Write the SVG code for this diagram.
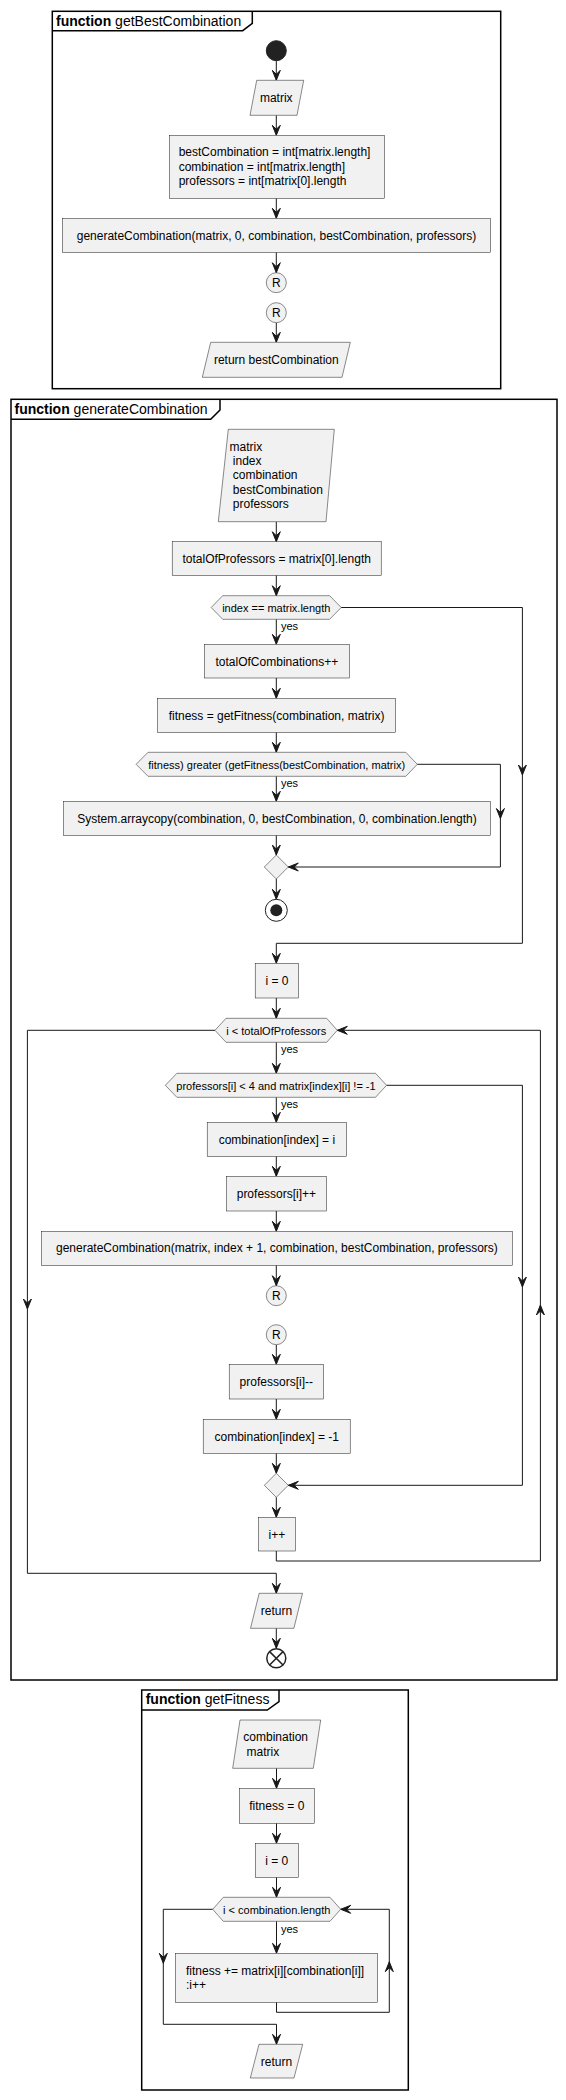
<svg xmlns="http://www.w3.org/2000/svg" xmlns:xlink="http://www.w3.org/1999/xlink" width="566" height="2100" viewBox="0 0 566 2100">
<style>
text{font-family:"Liberation Sans",Arial,sans-serif;fill:#000}
.t{font-size:12px}
.c{text-anchor:middle}
.s{font-size:11px}
.ttl{font-size:14px}
.b{font-weight:bold}
.n{fill:#F1F1F1;stroke:#181818;stroke-width:0.5}
.fr{fill:none;stroke:#000;stroke-width:1.5}
.ln{fill:none;stroke:#181818;stroke-width:1}
.ah{fill:#181818;stroke:#181818;stroke-width:1}
</style>
<defs>
<path id="ad" d="M-4,-10 L0,0 L4,-10 L0,-6 Z"/>
<path id="au" d="M-4,10 L0,0 L4,10 L0,6 Z"/>
<path id="al" d="M10,-4 L0,0 L10,4 L6,0 Z"/>
</defs>
<rect width="566" height="2100" fill="#fff"/>

<g id="frame-getBestCombination">
<rect class="fr" x="52.3" y="11.3" width="448.4" height="377.4"/>
<polyline class="fr" points="52.3,30.7 242.7,30.7 252.3,23.3 252.3,11.3"/>
<text class="ttl" x="56" y="25.5"><tspan class="b">function</tspan> getBestCombination</text>
</g>
<g id="frame-generateCombination">
<rect class="fr" x="11" y="399.3" width="546" height="1280.7"/>
<polyline class="fr" points="11,419.3 210.7,419.3 220,410 220,399.3"/>
<text class="ttl" x="14.5" y="413.5"><tspan class="b">function</tspan> generateCombination</text>
</g>
<g id="frame-getFitness">
<rect class="fr" x="141.7" y="1690" width="266.6" height="400"/>
<polyline class="fr" points="141.7,1710 267.3,1710 279,1701.7 279,1690"/>
<text class="ttl" x="145.7" y="1704"><tspan class="b">function</tspan> getFitness</text>
</g>

<g id="connectors">
<g class="ln">
<line x1="276.3" y1="60.7" x2="276.3" y2="80"/>
<line x1="276.3" y1="115.3" x2="276.3" y2="135"/>
<line x1="276.3" y1="198.3" x2="276.3" y2="218"/>
<line x1="276.3" y1="252.3" x2="276.3" y2="272.5"/>
<line x1="276.3" y1="322.7" x2="276.3" y2="342"/>

<line x1="276.3" y1="521.7" x2="276.3" y2="541.5"/>
<line x1="276.3" y1="575.3" x2="276.3" y2="595.5"/>
<line x1="276.3" y1="619.3" x2="276.3" y2="644"/>
<line x1="276.3" y1="678" x2="276.3" y2="698"/>
<line x1="276.3" y1="732.3" x2="276.3" y2="752"/>
<line x1="276.3" y1="776.3" x2="276.3" y2="801"/>
<line x1="276.3" y1="835.3" x2="276.3" y2="855"/>
<line x1="276.3" y1="879" x2="276.3" y2="899"/>
<polyline points="417.3,764.3 500.4,764.3 500.4,867 288.3,867"/>
<polyline points="341.2,607.5 522.4,607.5 522.4,943.3 276.3,943.3 276.3,963"/>
<line x1="276.3" y1="998" x2="276.3" y2="1018"/>
<line x1="276.3" y1="1042.3" x2="276.3" y2="1073"/>
<line x1="276.3" y1="1097.3" x2="276.3" y2="1122"/>
<line x1="276.3" y1="1156.3" x2="276.3" y2="1176"/>
<line x1="276.3" y1="1211" x2="276.3" y2="1231"/>
<line x1="276.3" y1="1265.3" x2="276.3" y2="1285.5"/>
<line x1="276.3" y1="1344.7" x2="276.3" y2="1364"/>
<line x1="276.3" y1="1399" x2="276.3" y2="1419"/>
<line x1="276.3" y1="1453.3" x2="276.3" y2="1473"/>
<polyline points="386.6,1085.3 522.4,1085.3 522.4,1485.3 288.3,1485.3"/>
<line x1="276.3" y1="1497.3" x2="276.3" y2="1517"/>
<polyline points="276.3,1551 276.3,1561 540.4,1561 540.4,1030.3 337.3,1030.3"/>
<polyline points="215,1030.3 27.4,1030.3 27.4,1573.3 276.3,1573.3 276.3,1593"/>
<line x1="276.3" y1="1628.3" x2="276.3" y2="1648"/>

<line x1="276.5" y1="1768.3" x2="276.5" y2="1788"/>
<line x1="276.5" y1="1823.3" x2="276.5" y2="1843"/>
<line x1="276.5" y1="1877.3" x2="276.5" y2="1897"/>
<line x1="276.5" y1="1921.3" x2="276.5" y2="1953"/>
<polyline points="276.5,2002.3 276.5,2012.3 389.3,2012.3 389.3,1909.3 340.7,1909.3"/>
<polyline points="212.7,1909.3 163.3,1909.3 163.3,2024.3 276.5,2024.3 276.5,2044"/>
</g>
<g class="ah">
<use xlink:href="#ad" x="276.3" y="80.3"/>
<use xlink:href="#ad" x="276.3" y="135.3"/>
<use xlink:href="#ad" x="276.3" y="218.3"/>
<use xlink:href="#ad" x="276.3" y="272.7"/>
<use xlink:href="#ad" x="276.3" y="342.3"/>

<use xlink:href="#ad" x="276.3" y="541.7"/>
<use xlink:href="#ad" x="276.3" y="595.7"/>
<use xlink:href="#ad" x="276.3" y="644.3"/>
<use xlink:href="#ad" x="276.3" y="698.3"/>
<use xlink:href="#ad" x="276.3" y="752.3"/>
<use xlink:href="#ad" x="276.3" y="801.3"/>
<use xlink:href="#ad" x="276.3" y="855"/>
<use xlink:href="#ad" x="276.3" y="899.3"/>
<use xlink:href="#ad" x="500.4" y="818.5"/>
<use xlink:href="#al" x="288.3" y="867"/>
<use xlink:href="#ad" x="522.4" y="775"/>
<use xlink:href="#ad" x="276.3" y="963.3"/>
<use xlink:href="#ad" x="276.3" y="1018.3"/>
<use xlink:href="#ad" x="276.3" y="1073.3"/>
<use xlink:href="#ad" x="276.3" y="1122.3"/>
<use xlink:href="#ad" x="276.3" y="1176.3"/>
<use xlink:href="#ad" x="276.3" y="1231.3"/>
<use xlink:href="#ad" x="276.3" y="1285.7"/>
<use xlink:href="#ad" x="276.3" y="1364.3"/>
<use xlink:href="#ad" x="276.3" y="1419.3"/>
<use xlink:href="#ad" x="276.3" y="1473.3"/>
<use xlink:href="#ad" x="522.4" y="1287"/>
<use xlink:href="#al" x="288.3" y="1485.3"/>
<use xlink:href="#ad" x="276.3" y="1517.3"/>
<use xlink:href="#au" x="540.4" y="1305"/>
<use xlink:href="#al" x="337.3" y="1030.3"/>
<use xlink:href="#ad" x="27.4" y="1309"/>
<use xlink:href="#ad" x="276.3" y="1593.3"/>
<use xlink:href="#ad" x="276.3" y="1648.3"/>

<use xlink:href="#ad" x="276.5" y="1788.3"/>
<use xlink:href="#ad" x="276.5" y="1843.3"/>
<use xlink:href="#ad" x="276.5" y="1897.3"/>
<use xlink:href="#ad" x="276.5" y="1953.3"/>
<use xlink:href="#au" x="389.3" y="1961.7"/>
<use xlink:href="#al" x="340.7" y="1909.3"/>
<use xlink:href="#ad" x="163.3" y="1963.3"/>
<use xlink:href="#ad" x="276.5" y="2044.3"/>
</g>
<g class="s">
<text x="281" y="630">yes</text>
<text x="281" y="787">yes</text>
<text x="281" y="1052.5">yes</text>
<text x="281" y="1108">yes</text>
<text x="281" y="1932.5">yes</text>
</g>
</g>

<!-- getBestCombination nodes -->
<g id="start1"><circle cx="276.3" cy="50.7" r="10" fill="#222222" stroke="#222222"/></g>
<g id="in1"><polygon class="n" points="256.7,80.3 303.7,80.3 297,115.3 250,115.3"/><text class="t c" x="276.3" y="102">matrix</text></g>
<g id="init1"><rect class="n" x="169.3" y="135.3" width="215" height="63"/>
<text class="t" x="178.7" y="156">bestCombination = int[matrix.length]</text>
<text class="t" x="178.7" y="170.5">combination = int[matrix.length]</text>
<text class="t" x="178.7" y="185">professors = int[matrix[0].length</text></g>
<g id="call1"><rect class="n" x="62.3" y="218.3" width="428.4" height="34"/><text class="t c" x="276.5" y="240">generateCombination(matrix, 0, combination, bestCombination, professors)</text></g>
<g id="r1"><circle class="n" cx="276.3" cy="282.7" r="10"/><text class="t c" x="276.3" y="287">R</text></g>
<g id="r2"><circle class="n" cx="276.3" cy="312.7" r="10"/><text class="t c" x="276.3" y="317">R</text></g>
<g id="ret1"><polygon class="n" points="210.7,342.3 350.3,342.3 342,377.3 202.3,377.3"/><text class="t c" x="276.3" y="364">return bestCombination</text></g>

<!-- generateCombination nodes -->
<g id="in2"><polygon class="n" points="228.3,429.3 334.3,429.3 326,521.7 218.3,521.7"/>
<text class="t" x="229.5" y="450.5">matrix</text>
<text class="t" x="232.8" y="465">index</text>
<text class="t" x="232.8" y="479.3">combination</text>
<text class="t" x="232.8" y="493.7">bestCombination</text>
<text class="t" x="232.8" y="508">professors</text></g>
<g id="tot"><rect class="n" x="172.2" y="541.7" width="209" height="33.6"/><text class="t c" x="276.7" y="562.5">totalOfProfessors = matrix[0].length</text></g>
<g id="ifA"><polygon class="n" points="211.2,607.5 222.7,595.7 329.6,595.7 341.2,607.5 329.6,619.3 222.7,619.3"/><text class="s c" x="276.3" y="611.5">index == matrix.length</text></g>
<g id="inc"><rect class="n" x="204.3" y="644.3" width="145.2" height="33.7"/><text class="t c" x="276.9" y="665.5">totalOfCombinations++</text></g>
<g id="fit"><rect class="n" x="157.4" y="698.3" width="238.3" height="34"/><text class="t c" x="276.5" y="720">fitness = getFitness(combination, matrix)</text></g>
<g id="ifB"><polygon class="n" points="136.1,764.3 148,752.3 405.8,752.3 417.3,764.3 405.8,776.3 148,776.3"/><text class="s c" x="276.7" y="768.5">fitness) greater (getFitness(bestCombination, matrix)</text></g>
<g id="copy"><rect class="n" x="63.5" y="801.3" width="427.1" height="34"/><text class="t c" x="277" y="823">System.arraycopy(combination, 0, bestCombination, 0, combination.length)</text></g>
<g id="mergeC"><polygon class="n" points="276.3,855 288.3,867 276.3,879 264.3,867"/></g>
<g id="stop"><circle cx="276.3" cy="910.3" r="11" fill="none" stroke="#222222" stroke-width="1"/><circle cx="276.3" cy="910.3" r="6" fill="#222222"/></g>
<g id="i0"><rect class="n" x="255.2" y="963.3" width="43.4" height="34.7"/><text class="t c" x="276.9" y="985">i = 0</text></g>
<g id="loopD"><polygon class="n" points="215,1030.3 226,1018.3 326.7,1018.3 337.3,1030.3 326.7,1042.3 226,1042.3"/><text class="s c" x="276.3" y="1034.5">i &lt; totalOfProfessors</text></g>
<g id="ifE"><polygon class="n" points="165.3,1085.3 176.9,1073.3 375.5,1073.3 386.6,1085.3 375.5,1097.3 176.9,1097.3"/><text class="s c" x="276" y="1089.5">professors[i] &lt; 4 and matrix[index][i] != -1</text></g>
<g id="setc"><rect class="n" x="207.2" y="1122.3" width="139.4" height="34"/><text class="t c" x="276.9" y="1144">combination[index] = i</text></g>
<g id="pinc"><rect class="n" x="226.4" y="1176.3" width="100" height="34.7"/><text class="t c" x="276.4" y="1198">professors[i]++</text></g>
<g id="call2"><rect class="n" x="41.5" y="1231.3" width="470.8" height="34"/><text class="t c" x="276.9" y="1252">generateCombination(matrix, index + 1, combination, bestCombination, professors)</text></g>
<g id="r3"><circle class="n" cx="276.3" cy="1295.7" r="10"/><text class="t c" x="276.3" y="1300">R</text></g>
<g id="r4"><circle class="n" cx="276.3" cy="1334.7" r="10"/><text class="t c" x="276.3" y="1339">R</text></g>
<g id="pdec"><rect class="n" x="229.2" y="1364.3" width="94.3" height="34.7"/><text class="t c" x="276.3" y="1386">professors[i]--</text></g>
<g id="resetc"><rect class="n" x="203.2" y="1419.3" width="147" height="34"/><text class="t c" x="276.7" y="1440.5">combination[index] = -1</text></g>
<g id="mergeF"><polygon class="n" points="276.3,1473.3 288.3,1485.3 276.3,1497.3 264.3,1485.3"/></g>
<g id="iinc"><rect class="n" x="258.5" y="1517.3" width="36.8" height="33.7"/><text class="t c" x="276.9" y="1539">i++</text></g>
<g id="ret2"><polygon class="n" points="259.2,1593.3 302.5,1593.3 293.9,1628.3 250.5,1628.3"/><text class="t c" x="276.5" y="1615">return</text></g>
<g id="end2"><circle cx="276.3" cy="1658.3" r="9.5" fill="#fff" stroke="#222222" stroke-width="1.5"/><path d="M269.6,1651.6 L283,1665 M283,1651.6 L269.6,1665" stroke="#222222" stroke-width="1.5"/></g>

<!-- getFitness nodes -->
<g id="in3"><polygon class="n" points="240,1720 320.7,1720 313.3,1768.3 232.7,1768.3"/>
<text class="t" x="243.3" y="1741">combination</text>
<text class="t" x="246.6" y="1755.5">matrix</text></g>
<g id="fit0"><rect class="n" x="239.3" y="1788.3" width="75" height="35"/><text class="t c" x="276.8" y="1810">fitness = 0</text></g>
<g id="i0b"><rect class="n" x="255.3" y="1843.3" width="43" height="34"/><text class="t c" x="276.8" y="1865">i = 0</text></g>
<g id="loopG"><polygon class="n" points="212.7,1909.3 223.3,1897.3 330,1897.3 340.7,1909.3 330,1921.3 223.3,1921.3"/><text class="s c" x="276.7" y="1913.5">i &lt; combination.length</text></g>
<g id="body"><rect class="n" x="175.3" y="1953.3" width="202.4" height="49"/>
<text class="t" x="186" y="1974.5">fitness += matrix[i][combination[i]]</text>
<text class="t" x="186" y="1989">:i++</text></g>
<g id="ret3"><polygon class="n" points="259,2044.3 302.7,2044.3 294,2078 250.3,2078"/><text class="t c" x="276.5" y="2065.5">return</text></g>
</svg>
